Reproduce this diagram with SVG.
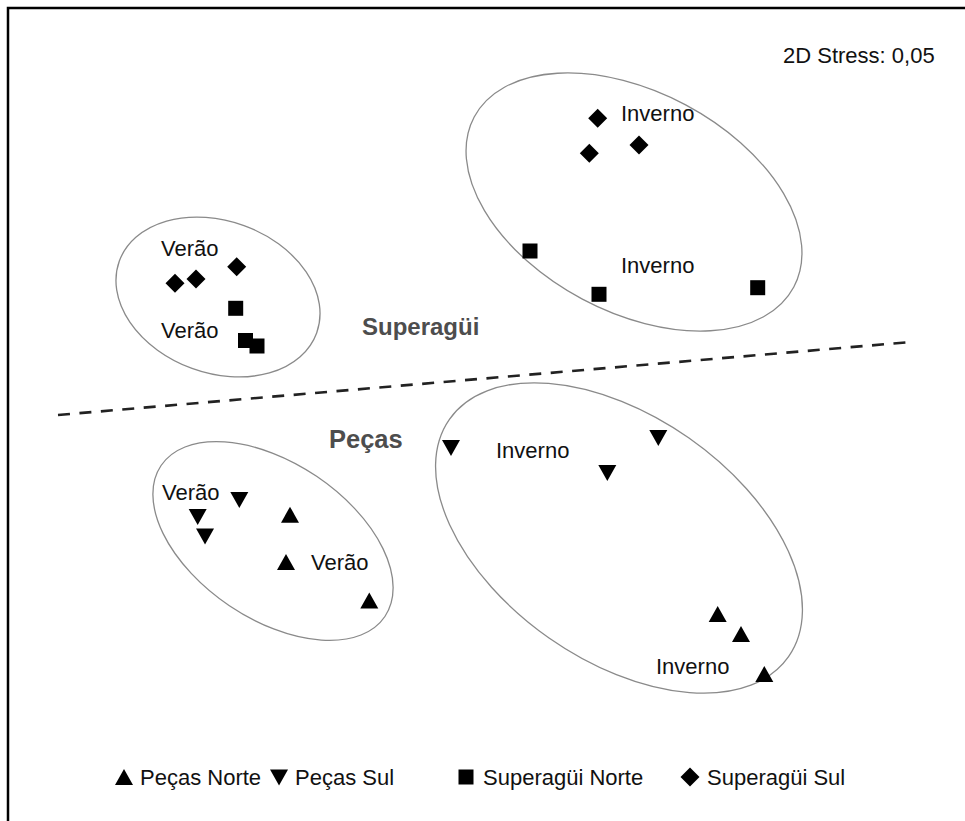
<svg xmlns="http://www.w3.org/2000/svg" xmlns:xlink="http://www.w3.org/1999/xlink" width="965" height="821" viewBox="0 0 965 821">
<style>
.lbl{font-family:"Liberation Sans",Arial,sans-serif;font-size:22px;fill:#111}
.grp{font-family:"Liberation Sans",Arial,sans-serif;font-size:24px;font-weight:bold;fill:#4d4d4d}
.ell{fill:none;stroke:#8a8a8a;stroke-width:1.3}
.mk{fill:#000}
</style>
<defs>
<polygon id="up" points="0,-8.5 9,7.5 -9,7.5"/>
<polygon id="down" points="-9,-7.5 9,-7.5 0,8.5"/>
<rect id="sq" x="-7.5" y="-7.5" width="15" height="15"/>
<polygon id="dia" points="0,-9.5 9.5,0 0,9.5 -9.5,0"/>
</defs>
<rect width="965" height="821" fill="#fff"/>
<path d="M8,821 V8 H965" fill="none" stroke="#000" stroke-width="2.5"/>
<text class="lbl" x="783" y="63">2D Stress: 0,05</text>

<g id="connectors">
<line x1="58" y1="415" x2="911" y2="342" stroke="#222" stroke-width="2.6" stroke-dasharray="12,9.5"/>
</g>

<g id="group-superagui-verao">
<ellipse class="ell" cx="218" cy="297" rx="105" ry="76" transform="rotate(20 218 297)"/>
<text class="lbl" x="161" y="256">Verão</text>
<text class="lbl" x="161" y="338">Verão</text>
<g class="mk">
<use href="#dia" x="236.7" y="266.7"/><use href="#dia" x="175" y="283.3"/><use href="#dia" x="196" y="279"/>
<use href="#sq" x="235.7" y="308.3"/><use href="#sq" x="245.5" y="340.5"/><use href="#sq" x="257" y="346"/>
</g>
</g>

<g id="group-superagui-inverno">
<ellipse class="ell" cx="634" cy="202" rx="181" ry="110" transform="rotate(28 634 202)"/>
<text class="lbl" x="621" y="121">Inverno</text>
<text class="lbl" x="621" y="273">Inverno</text>
<g class="mk">
<use href="#dia" x="597.7" y="118.3"/><use href="#dia" x="589.3" y="153.3"/><use href="#dia" x="639" y="145"/>
<use href="#sq" x="530" y="251"/><use href="#sq" x="599" y="294.3"/><use href="#sq" x="757.7" y="287.7"/>
</g>
</g>

<g id="group-pecas-verao">
<ellipse class="ell" cx="273" cy="541" rx="135" ry="78" transform="rotate(34 273 541)"/>
<text class="lbl" x="162" y="500">Verão</text>
<text class="lbl" x="311" y="570">Verão</text>
<g class="mk">
<use href="#down" x="239.3" y="499.5"/><use href="#down" x="197.7" y="516.5"/><use href="#down" x="205" y="536"/>
<use href="#up" x="290" y="515.2"/><use href="#up" x="286" y="562.5"/><use href="#up" x="369.3" y="601"/>
</g>
</g>

<g id="group-pecas-inverno">
<ellipse class="ell" cx="619" cy="538" rx="207" ry="122" transform="rotate(35 619 538)"/>
<text class="lbl" x="496" y="458">Inverno</text>
<text class="lbl" x="656" y="674">Inverno</text>
<g class="mk">
<use href="#down" x="451" y="447.5"/><use href="#down" x="658.3" y="437.5"/><use href="#down" x="607.3" y="472.5"/>
<use href="#up" x="717.7" y="614.5"/><use href="#up" x="741" y="634.5"/><use href="#up" x="764.3" y="674.5"/>
</g>
</g>

<text class="grp" x="362" y="335">Superagüi</text>
<text class="grp" x="329" y="448" style="font-size:25.5px">Peças</text>

<g id="legend">
<g class="mk">
<use href="#up" x="124" y="777.5"/><use href="#down" x="279" y="777"/><use href="#sq" x="466" y="777"/><use href="#dia" x="690" y="777"/>
</g>
<text class="lbl" x="140" y="785">Peças Norte</text>
<text class="lbl" x="295" y="785">Peças Sul</text>
<text class="lbl" x="483" y="785">Superagüi Norte</text>
<text class="lbl" x="707" y="785">Superagüi Sul</text>
</g>
</svg>
